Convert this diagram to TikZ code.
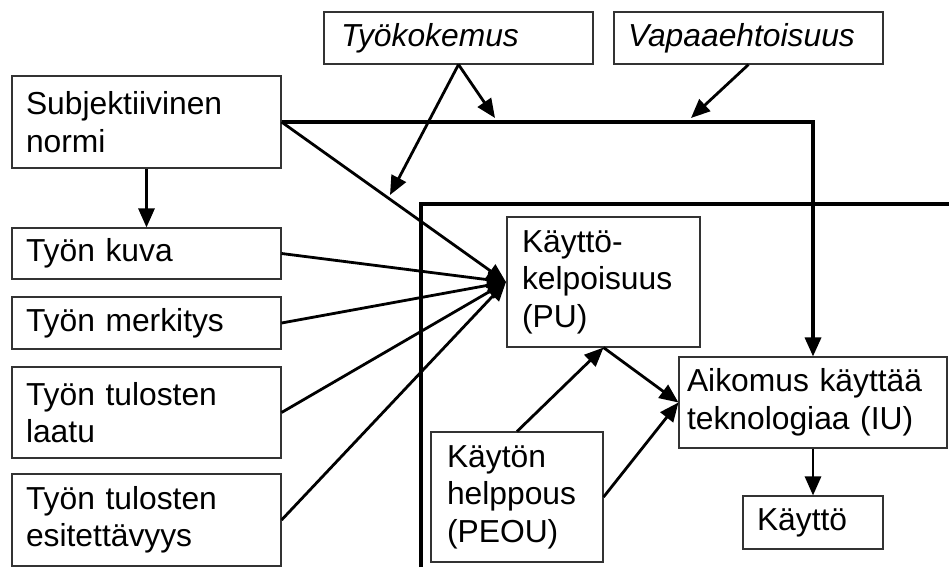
\documentclass[tikz,border=0pt]{standalone}
\usepackage{fontspec}
\setmainfont{Liberation Sans}
\usetikzlibrary{arrows.meta}

\newcommand\boxfont{\fontsize{31.8}{37.5}\selectfont}

\tikzset{
  box/.style={draw=black!80, line width=1.1pt, fill=white, align=left,
    inner ysep=0pt, font=\boxfont, anchor=center},
  tip/.style={-{Triangle[length=19pt,width=16pt]}},
  arr/.style={line width=2.8pt, tip},
  trunk/.style={line width=3.4pt, line join=miter, tip},
  frame/.style={line width=4.2pt, line join=miter}
}

\begin{document}
\begin{tikzpicture}[x=1pt, y=-1pt]
  \fill[white] (0,0) rectangle (949,567);
  \useasboundingbox (0,0) rectangle (949,567);

  % inner frame of the core model
  \draw[frame] (421,567) -- (421,204) -- (949,204);

  % boxes
  \node[box, text width=241pt, inner xsep=14pt, minimum height=92pt] (subj) at (146.5,122) {Subjektiivinen\\normi};
  \node[box, text width=241pt, inner xsep=14pt, minimum height=51pt] (kuva) at (146.5,253.5) {Työn kuva};
  \node[box, text width=241pt, inner xsep=14pt, minimum height=52pt] (merk) at (146.5,323) {Työn merkitys};
  \node[box, text width=241pt, inner xsep=14pt, minimum height=91pt] (laatu) at (146.5,412.5) {Työn tulosten\\laatu};
  \node[box, text width=241pt, inner xsep=14pt, minimum height=92pt] (esit) at (146.5,520) {Työn tulosten\\esitettävyys};
  \node[box, text width=235pt, inner xsep=17pt, minimum height=52pt, font=\boxfont\itshape] (tyok) at (458.5,38) {Työkokemus};
  \node[box, text width=241pt, inner xsep=14pt, minimum height=52pt, font=\boxfont\itshape] (vapaa) at (748.5,38) {Vapaaehtoisuus};
  \node[box, text width=163pt, inner xsep=15pt, minimum height=130pt] (pu) at (603.5,282) {Käyttö-\\kelpoisuus\\(PU)};
  \node[box, text width=252pt, inner xsep=8pt, minimum height=91pt] (iu) at (813,402.5) {Aikomus käyttää\\teknologiaa (IU)};
  \node[box, text width=140pt, inner xsep=16pt, minimum height=130pt] (peou) at (517,497) {Käytön\\helppous\\(PEOU)};
  \node[box, text width=112pt, inner xsep=14pt, minimum height=53pt] (kaytto) at (813,522.5) {Käyttö};

  % free ends of the moderator arrows
  \coordinate (tyA) at (495,118);
  \coordinate (tyB) at (390,195);
  \coordinate (vaA) at (691,118);
  \coordinate (puin) at (506,282);

  % connectors
  \draw[arr] (subj.south) -- (kuva.north);
  \draw[trunk] (subj.east) -- (subj.east -| iu.north) -- (iu.north);
  \draw[arr] (tyok.south) -- (tyA);
  \draw[arr] (tyok.south) -- (tyB);
  \draw[arr] (vapaa.south) -- (vaA);

  \draw[arr] (subj.east) -- (puin);
  \draw[arr] (kuva.east) -- (puin);
  \draw[arr] (merk.east) -- (puin);
  \draw[arr] (laatu.east) -- (puin);
  \draw[arr] (esit.east) -- (puin);

  \draw[arr] (peou.north) -- (pu.south);
  \draw[arr] (pu.south) -- (iu.west);
  \draw[arr] (peou.east) -- (iu.west);
  \draw[arr] (iu.south) -- (kaytto.north);
\end{tikzpicture}
\end{document}
